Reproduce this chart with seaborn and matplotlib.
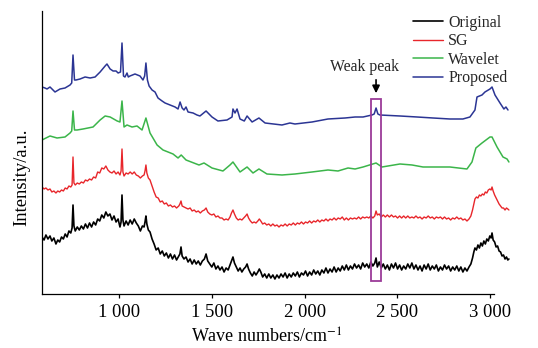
import matplotlib
matplotlib.use("Agg")
import matplotlib.pyplot as plt
import seaborn as sns
from matplotlib.patches import Rectangle
from matplotlib.ticker import FixedLocator

# ----------------------------
# Data (wave numbers in cm-1, intensity in a.u., offset traces)
# ----------------------------
wn_noisy = [
    585, 596, 606, 617, 628, 638, 649, 660, 670, 680, 690, 700, 710, 720, 730, 740,
    747, 752, 757, 764, 775, 786, 797, 808, 819, 830, 841, 852, 863, 874, 885, 896,
    907, 918, 929, 940, 951, 962, 973, 984, 995, 1005, 1011, 1016, 1021, 1027, 1038, 1049,
    1060, 1071, 1082, 1093, 1104, 1115, 1126, 1135, 1140, 1145, 1150, 1158, 1167, 1178, 1189, 1200,
    1211, 1222, 1233, 1244, 1255, 1266, 1277, 1288, 1299, 1310, 1322, 1328, 1334, 1340, 1350, 1361,
    1372, 1383, 1394, 1405, 1416, 1427, 1438, 1449, 1460, 1469, 1478, 1489, 1500, 1511, 1522, 1533,
    1544, 1555, 1566, 1577, 1588, 1598, 1606, 1614, 1622, 1632, 1642, 1652, 1662, 1672, 1682, 1690,
    1698, 1708, 1718, 1728, 1738, 1748, 1756, 1764, 1774, 1785, 1796, 1807, 1818, 1829, 1840, 1851,
    1862, 1873, 1884, 1895, 1906, 1917, 1928, 1939, 1950, 1961, 1972, 1983, 1994, 2005, 2016, 2027,
    2038, 2049, 2060, 2071, 2082, 2093, 2104, 2115, 2126, 2137, 2148, 2159, 2170, 2181, 2192, 2203,
    2214, 2225, 2236, 2247, 2258, 2269, 2280, 2291, 2302, 2313, 2324, 2335, 2346, 2357, 2368, 2378,
    2385, 2392, 2402, 2413, 2424, 2435, 2446, 2457, 2468, 2479, 2490, 2501, 2512, 2523, 2534, 2545,
    2556, 2567, 2578, 2589, 2600, 2611, 2622, 2633, 2644, 2655, 2666, 2677, 2688, 2699, 2710, 2721,
    2732, 2743, 2754, 2765, 2776, 2787, 2798, 2809, 2820, 2831, 2842, 2853, 2864, 2875, 2886, 2896,
    2905, 2912, 2918, 2926, 2934, 2942, 2950, 2958, 2966, 2974, 2982, 2990, 2998, 3005, 3010, 3016,
    3024, 3032, 3040, 3048, 3056, 3064, 3072, 3080, 3088, 3095, 3101,
]

original = [
    57, 54, 59, 55, 58, 53, 56, 50, 54, 52, 57, 55, 60, 57, 63, 61,
    66, 89, 68, 63, 67, 64, 68, 65, 70, 66, 71, 67, 72, 69, 75, 73,
    79, 76, 82, 78, 80, 74, 78, 72, 75, 67, 72, 99, 74, 68, 73, 69,
    74, 70, 75, 71, 68, 63, 68, 67, 72, 78, 70, 64, 62, 55, 50, 44,
    46, 40, 43, 38, 41, 36, 40, 35, 39, 34, 38, 40, 47, 38, 35, 37,
    32, 35, 30, 34, 30, 33, 29, 33, 35, 40, 33, 30, 27, 31, 25, 28,
    24, 27, 22, 26, 24, 29, 33, 37, 31, 27, 23, 26, 22, 25, 27, 30,
    25, 21, 18, 22, 19, 22, 25, 22, 17, 20, 16, 20, 16, 19, 15, 19,
    16, 20, 17, 21, 16, 20, 17, 21, 18, 22, 17, 21, 19, 23, 18, 22,
    19, 24, 20, 23, 19, 24, 21, 26, 21, 25, 22, 27, 22, 26, 23, 28,
    24, 29, 24, 28, 25, 30, 26, 29, 25, 31, 27, 30, 26, 32, 28, 31,
    36, 27, 32, 26, 30, 25, 29, 24, 30, 26, 31, 25, 29, 24, 28, 25,
    30, 26, 31, 25, 29, 24, 28, 23, 29, 25, 30, 24, 28, 25, 29, 23,
    27, 24, 29, 25, 28, 23, 27, 24, 28, 23, 27, 22, 26, 23, 27, 30,
    36, 42, 46, 44, 49, 46, 51, 48, 53, 50, 55, 53, 58, 56, 61, 54,
    52, 47, 48, 43, 42, 38, 39, 35, 37, 34, 35,
]

sg = [
    107, 105, 106, 104, 105, 102, 103, 101, 103, 102, 104, 103, 106, 105, 108, 107,
    109, 137, 111, 109, 111, 110, 112, 111, 114, 113, 115, 114, 117, 116, 122, 121,
    126, 125, 128, 124, 122, 121, 123, 120, 122, 119, 123, 145, 122, 118, 121, 120,
    122, 120, 122, 119, 118, 116, 118, 119, 123, 129, 121, 116, 114, 108, 102, 97,
    96, 92, 93, 90, 91, 88, 89, 87, 88, 86, 88, 90, 93, 88, 87, 86,
    85, 86, 83, 84, 82, 83, 81, 83, 84, 86, 82, 80, 79, 80, 77, 78,
    76, 76, 74, 75, 74, 77, 81, 84, 80, 76, 74, 75, 74, 76, 78, 80,
    76, 73, 71, 72, 71, 73, 75, 73, 70, 71, 69, 70, 68, 70, 68, 69,
    67, 69, 68, 70, 68, 70, 69, 71, 69, 71, 70, 72, 70, 72, 71, 73,
    71, 73, 72, 74, 72, 74, 73, 75, 73, 75, 74, 76, 74, 76, 75, 77,
    74, 76, 74, 76, 75, 76, 75, 77, 75, 77, 76, 77, 76, 78, 76, 78,
    83, 79, 80, 77, 79, 77, 79, 77, 79, 77, 78, 76, 78, 76, 78, 76,
    78, 76, 77, 76, 78, 76, 77, 75, 77, 76, 78, 76, 77, 75, 77, 76,
    77, 75, 77, 75, 76, 74, 76, 75, 77, 75, 76, 74, 75, 73, 75, 78,
    84, 90, 95, 97, 96, 99, 98, 100, 99, 102, 101, 104, 105, 104, 107, 103,
    99, 96, 93, 90, 88, 86, 86, 84, 86, 85, 84,
]

wn_wavelet = [
    585, 585, 628, 666, 709, 736, 745, 752, 760, 774, 806,
    860, 898, 925, 952, 990, 1005, 1016, 1027, 1043, 1070,
    1097, 1124, 1145, 1167, 1205, 1237, 1291, 1318, 1335, 1361,
    1431, 1458, 1501, 1560, 1598, 1614, 1652, 1690, 1722, 1754,
    1797, 1878, 1948, 2040, 2126, 2180, 2234, 2272, 2315, 2385,
    2417, 2514, 2579, 2638, 2692, 2783, 2875, 2902, 2923, 2956,
    2999, 3010, 3037, 3069, 3091, 3101,
]
wavelet = [
    107, 154, 158, 156, 157, 161, 163, 183, 164, 164, 165,
    167, 174, 178, 177, 173, 172, 193, 167, 169, 167,
    168, 164, 176, 161, 149, 144, 140, 136, 139, 134,
    129, 131, 126, 123, 129, 132, 122, 127, 121, 125,
    120, 119, 120, 122, 124, 123, 126, 125, 127, 131,
    127, 130, 129, 127, 127, 127, 125, 132, 146, 151,
    157, 157, 147, 137, 135, 132,
]

wn_proposed = [
    585, 585, 601, 612, 628, 655, 682, 709, 736, 745, 752,
    760, 768, 790, 817, 844, 871, 898, 925, 935, 952,
    968, 984, 995, 1008, 1016, 1024, 1032, 1043, 1050, 1059,
    1086, 1113, 1129, 1138, 1145, 1153, 1162, 1178, 1194, 1210,
    1232, 1248, 1275, 1302, 1318, 1329, 1340, 1350, 1361, 1372,
    1399, 1420, 1436, 1469, 1501, 1533, 1582, 1609, 1614, 1625,
    1636, 1652, 1675, 1690, 1717, 1754, 1787, 1878, 1921, 1948,
    2040, 2126, 2218, 2272, 2315, 2363, 2375, 2385, 2395, 2406,
    2514, 2606, 2692, 2783, 2853, 2891, 2918, 2929, 2956, 2972,
    2999, 3010, 3026, 3053, 3074, 3085, 3096,
]
proposed = [
    154, 207, 206, 205, 207, 202, 205, 206, 209, 211, 239,
    214, 214, 215, 217, 216, 217, 222, 228, 230, 225,
    223, 223, 221, 222, 251, 218, 217, 221, 217, 218,
    220, 218, 214, 218, 231, 214, 208, 204, 202, 196,
    193, 191, 189, 187, 185, 192, 186, 184, 187, 182,
    181, 179, 178, 183, 177, 173, 174, 177, 185, 181,
    185, 175, 173, 178, 172, 176, 171, 169, 171, 170,
    172, 175, 176, 177, 177, 179, 180, 186, 180, 179,
    178, 177, 176, 175, 175, 177, 184, 197, 199, 202,
    205, 207, 199, 191, 185, 187, 184,
]

# SG trace starts with a short jump on the axis from the Original start level
wn_sg = [585] + wn_noisy
sg_plot = [57] + sg

tick_pos = [1000, 1500, 2000, 2500, 3000]
tick_labels = ["1 000", "1 500", "2 000", "2 500", "3 000"]

# weak peak marker (box around the ~2385 cm-1 band)
box_x0, box_x1 = 2358, 2412
box_y0, box_y1 = 13, 195

# ----------------------------
# Figure
# ----------------------------
sns.set_theme(style="white")
plt.rcParams["font.family"] = ["Liberation Serif", "DejaVu Serif"]
plt.rcParams["mathtext.fontset"] = "stix"

fig = plt.figure(figsize=(5.38, 3.48), dpi=100)
ax = fig.add_axes([0.0781, 0.1552, 0.8699, 0.8132])

sns.lineplot(x=wn_noisy, y=original, color="#000000", lw=1.2, label="Original",
             estimator=None, sort=False, ax=ax)
sns.lineplot(x=wn_sg, y=sg_plot, color="#e8262b", lw=1.0, label="SG",
             estimator=None, sort=False, ax=ax)
sns.lineplot(x=wn_wavelet, y=wavelet, color="#3bb54a", lw=1.1, label="Wavelet",
             estimator=None, sort=False, ax=ax)
sns.lineplot(x=wn_proposed, y=proposed, color="#2b3594", lw=1.1, label="Proposed",
             estimator=None, sort=False, ax=ax)

ax.add_patch(Rectangle((box_x0, box_y0), box_x1 - box_x0, box_y1 - box_y0,
                       fill=False, edgecolor="#9b3b98", lw=1.3, zorder=5))
ax.annotate("", xy=(2385, 198), xytext=(2385, 217),
            arrowprops=dict(arrowstyle="-|>", color="black", lw=1.2, mutation_scale=11))
ax.text(2325, 227, "Weak peak", ha="center", va="center", fontsize=11.3)

ax.set_xlim(585, 3107)
ax.set_ylim(0, 283)
ax.xaxis.set_major_locator(FixedLocator(tick_pos))
ax.set_xticklabels(tick_labels)
ax.set_yticks([])
ax.tick_params(axis="x", direction="out", length=3, width=0.9, pad=4.5,
               labelsize=13.4, colors="black", bottom=True)
for side in ["top", "right"]:
    ax.spines[side].set_visible(False)
for side in ["left", "bottom"]:
    ax.spines[side].set_color("black")
    ax.spines[side].set_linewidth(0.9)
ax.spines["bottom"].set_bounds(585, 3020)

ax.set_xlabel("Wave numbers/cm$^{-1}$", fontsize=13, color="black")
ax.set_ylabel("Intensity/a.u.", fontsize=13.4, color="black")
ax.xaxis.set_label_coords(0.48, -0.12)
ax.yaxis.set_label_coords(-0.025, 0.413)

ax.legend(loc="upper left", bbox_to_anchor=(413 / 538, 1 - 15 / 348),
          bbox_transform=fig.transFigure, frameon=False, fontsize=11.5,
          handlelength=1.9, handletextpad=0.3, borderpad=0, borderaxespad=0,
          labelspacing=0.15)

fig.savefig("out.png", dpi=100)
